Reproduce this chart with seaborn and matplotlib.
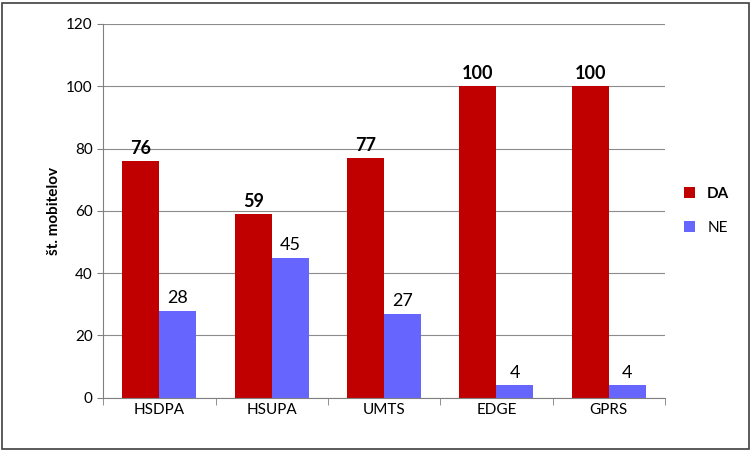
import pandas as pd
import matplotlib
matplotlib.use('Agg')
import matplotlib.pyplot as plt
import seaborn as sns

categories = ['HSDPA', 'HSUPA', 'UMTS', 'EDGE', 'GPRS']
da_values = [76, 59, 77, 100, 100]
ne_values = [28, 45, 27, 4, 4]

plt.rcParams['font.family'] = 'Lato'

df = pd.DataFrame({
    'cat': categories * 2,
    'val': da_values + ne_values,
    'grp': ['DA'] * len(categories) + ['NE'] * len(categories),
})

fig = plt.figure(figsize=(7.53, 4.51), dpi=100)
ax = fig.add_axes([0.137, 0.118, 0.746, 0.829])

sns.barplot(data=df, x='cat', y='val', hue='grp', palette={'DA': '#C00000', 'NE': '#6666FF'},
            width=0.66, saturation=1, ax=ax, legend=True)

# value labels
for cont, bold in zip(ax.containers, ['bold', 'normal']):
    ax.bar_label(cont, fontsize=13, fontweight=bold, padding=3, color='black')

ax.set_xlim(-0.5, len(categories) - 0.5)
ax.set_ylim(0, 120)
ax.set_yticks(range(0, 121, 20))
ax.yaxis.grid(True, color='#8c8c8c', linewidth=0.8)
ax.set_axisbelow(True)
ax.set_xlabel('')
ax.set_ylabel('št. mobitelov', fontsize=11, fontweight='bold')
ax.tick_params(axis='both', labelsize=11, length=4, color='#808080')
# x ticks marks between categories, like Excel
ax.set_xticks([i - 0.5 for i in range(len(categories) + 1)], minor=True)
ax.tick_params(axis='x', which='major', length=0)
ax.tick_params(axis='x', which='minor', length=5, color='#808080')
for side in ['top', 'right']:
    ax.spines[side].set_visible(False)
for side in ['left', 'bottom']:
    ax.spines[side].set_color('#808080')

leg = ax.legend(loc='center left', bbox_to_anchor=(1.01, 0.5), frameon=False, fontsize=11,
                handlelength=0.7, handleheight=0.7, labelspacing=1.3)
leg.get_texts()[0].set_fontweight('bold')

# outer border
fig.patches.append(plt.Rectangle((0.002, 0.004), 0.993, 0.99, transform=fig.transFigure,
                                 fill=False, edgecolor='#404040', linewidth=1.2))

fig.savefig('out.png', dpi=100)
